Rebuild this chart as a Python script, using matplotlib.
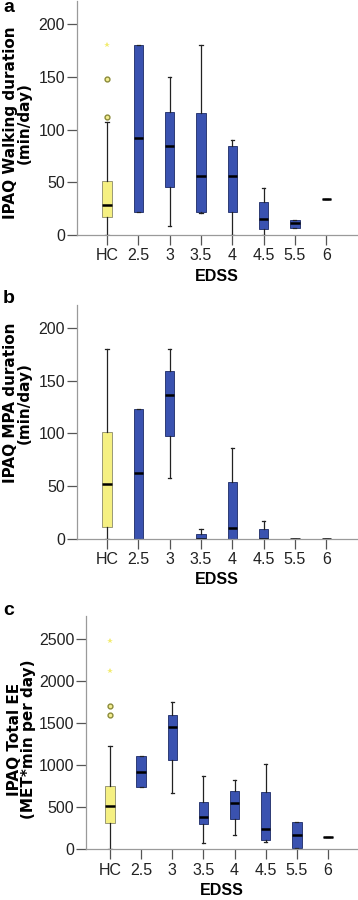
import numpy as np
import matplotlib
matplotlib.use('Agg')
import matplotlib.pyplot as plt

plt.rcParams['font.family'] = ['Liberation Sans', 'DejaVu Sans']

categories = ['HC', '2.5', '3', '3.5', '4', '4.5', '5.5', '6']

# panel a: IPAQ walking duration (min/day)
walk_whislo = [0, 22, 9, 21, 0, 0, 7, 34]
walk_q1 = [17, 22, 46, 22, 22, 6, 7, 34]
walk_med = [28, 92, 84, 56, 56, 15, 11, 34]
walk_q3 = [51, 180, 117, 116, 84, 31, 14.5, 34]
walk_whishi = [107, 180, 150, 180, 90, 45, 14.5, 34]
walk_circles = [112, 148]
walk_stars = [180]

# panel b: IPAQ MPA duration (min/day)
mpa_whislo = [0, 0, 58, 0, 0, 0, 0, 0]
mpa_q1 = [11, 0, 98, 0, 0, 0, 0, 0]
mpa_med = [52, 62, 137, 0, 10, 0, 0, 0]
mpa_q3 = [101, 123, 159, 4.5, 54, 9, 0, 0]
mpa_whishi = [180, 123, 180, 9, 86, 17, 0, 0]

# panel c: IPAQ total EE (MET*min per day)
ee_whislo = [0, 738, 670, 79, 171, 91, 20, 147]
ee_q1 = [310, 738, 1060, 298, 365, 115, 20, 147]
ee_med = [516, 921, 1456, 389, 552, 238, 175, 147]
ee_q3 = [758, 1111, 1599, 563, 698, 679, 321, 147]
ee_whishi = [1226, 1111, 1758, 877, 821, 1020, 321, 147]
ee_circles = [1595, 1702]
ee_stars = [2119, 2476]

YELLOW = '#f5f082'
BLUE = '#3a52b0'
SPINE = '#9a9a9a'


def make_stats(lo, q1, med, q3, hi):
    " build bxp stats list "
    stats = []
    for i in range(len(lo)):
        stats.append(dict(whislo=lo[i], q1=q1[i], med=med[i], q3=q3[i],
                          whishi=hi[i], fliers=[]))
    return stats


def draw_panel(ax, stats, xlim, ylim, yticks, ylabel, lab_xy, letter,
               letter_y, circles=None, stars=None):
    """ draw one box panel """
    pos = np.arange(len(categories))
    bp = ax.bxp(stats, positions=pos, widths=0.3, patch_artist=True,
                showfliers=False,
                boxprops=dict(linewidth=0.6),
                medianprops=dict(color='black', linewidth=1.8),
                whiskerprops=dict(color='#222222', linewidth=0.9),
                capprops=dict(color='#222222', linewidth=0.9),
                capwidths=0.1)
    for i, box in enumerate(bp['boxes']):
        if i == 0:
            box.set_facecolor(YELLOW)
            box.set_edgecolor('#8a8a6a')
        else:
            box.set_facecolor(BLUE)
            box.set_edgecolor('#1c2a66')
    if circles:
        ax.plot([0] * len(circles), circles, 'o', ms=3.5, mfc='#f4ee90',
                mec='#8a8a3a', mew=1.0)
    if stars:
        ax.plot([0] * len(stars), stars, '*', ms=4, color='#f2ec70', mew=0)

    ax.set_xlim(xlim)
    ax.set_ylim(ylim)
    ax.set_yticks(yticks)
    ax.set_xticks(pos)
    ax.set_xticklabels(categories)
    for side in ['top', 'right']:
        ax.spines[side].set_visible(False)
    for side in ['left', 'bottom']:
        ax.spines[side].set_color(SPINE)
        ax.spines[side].set_linewidth(0.9)
    ax.tick_params(axis='both', length=7.5, width=0.9, color='#555555',
                   labelsize=11.5, labelcolor='#222222')
    ax.tick_params(axis='y', pad=1)
    ax.tick_params(axis='x', pad=2)
    ax.set_xlabel('EDSS', fontsize=11.5, fontweight='bold', labelpad=4)
    ax.set_ylabel(ylabel, fontsize=11, fontweight='bold', family='DejaVu Sans',
                  linespacing=0.9)
    ax.yaxis.set_label_coords(*lab_xy)
    fig.text(3 / 358, 1 - letter_y / 900, letter, fontsize=14,
             fontweight='bold', ha='left', va='baseline')


fig = plt.figure(figsize=(3.58, 9.0), dpi=100)
ax_a = fig.add_axes([0.215, 0.7389, 0.782, 0.26])
ax_b = fig.add_axes([0.215, 0.4014, 0.782, 0.2597])
ax_c = fig.add_axes([0.2402, 0.0563, 0.757, 0.2593])

draw_panel(ax_a, make_stats(walk_whislo, walk_q1, walk_med, walk_q3, walk_whishi),
           (-0.96, 7.98), (0, 222), [0, 50, 100, 150, 200],
           'IPAQ Walking duration\n(min/day)', (-0.161, 0.48), 'a', 12,
           walk_circles, walk_stars)
draw_panel(ax_b, make_stats(mpa_whislo, mpa_q1, mpa_med, mpa_q3, mpa_whishi),
           (-0.96, 7.98), (0, 222), [0, 50, 100, 150, 200],
           'IPAQ MPA duration\n(min/day)', (-0.161, 0.58), 'b', 303)
draw_panel(ax_c, make_stats(ee_whislo, ee_q1, ee_med, ee_q3, ee_whishi),
           (-0.77, 7.93), (0, 2777), [0, 500, 1000, 1500, 2000, 2500],
           'IPAQ Total EE\n(MET*min per day)', (-0.185, 0.47), 'c', 615,
           ee_circles, ee_stars)

fig.savefig('out.png', dpi=100)
